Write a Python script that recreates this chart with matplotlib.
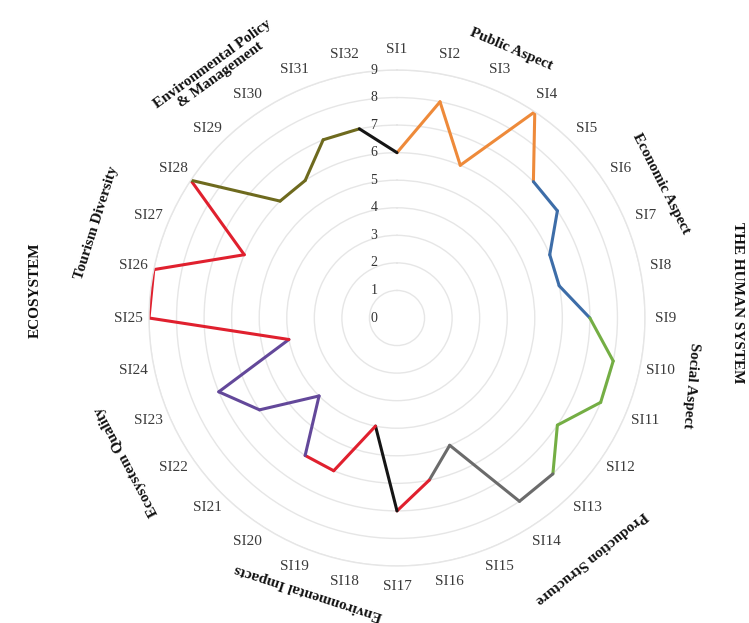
import numpy as np
import matplotlib
matplotlib.use("Agg")
import matplotlib.pyplot as plt
from matplotlib.transforms import offset_copy

# Sustainability indicators and their scores
indicators = [f"SI{i}" for i in range(1, 33)]
scores = [6, 8, 6, 9, 7, 7, 6, 6, 7, 8, 8, 7, 8, 8, 5, 6,
          7, 4, 6, 6, 4, 6, 7, 4, 9, 9, 6, 9, 6, 6, 7, 7]
radial_ticks = list(range(0, 10))

aspects = ["Public Aspect", "Economic Aspect", "Social Aspect",
           "Production Structure", "Environmental Impacts",
           "Ecosystem Quality", "Tourism Diversity",
           "Environmental Policy\n& Management"]
systems = ["THE HUMAN SYSTEM", "ECOSYSTEM"]

# Colour of each segment SI(k) -> SI(k+1)
ORANGE, BLUE, GREEN, GRAY = "#EE8A3A", "#3D6DA8", "#74AE44", "#6B6B6B"
RED, BLACK, PURPLE, OLIVE = "#E0202E", "#151515", "#63489A", "#6E6A1E"
seg_colors = ([ORANGE] * 4 + [BLUE] * 4 + [GREEN] * 4 + [GRAY] * 3 + [RED]
              + [BLACK] + [RED] * 2 + [PURPLE] * 4 + [RED] * 4 + [OLIVE] * 4
              + [BLACK])

# Aspect label placement: (angle in degrees clockwise from top, radius, rotation)
aspect_pos = [(23, 10.6, -23), (63, 10.75, -63), (103, 10.95, -95),
              (141, 11.2, -141), (198, 10.45, -198), (242, 11.1, -242),
              (287.5, 11.45, -287.5), (324, 11.15, -324)]

plt.rcParams["font.family"] = ["Liberation Serif", "DejaVu Serif"]

fig = plt.figure(figsize=(7.49, 6.23), dpi=100)
W, H = 749, 623
cx, cy, R = 397, 318, 248
ax = fig.add_axes([(cx - R) / W, (H - cy - R) / H, 2 * R / W, 2 * R / H],
                  projection="polar")
ax.set_theta_zero_location("N")
ax.set_theta_direction(-1)
ax.set_ylim(0, 9)

n = len(indicators)
theta = np.arange(n) * 2 * np.pi / n

# concentric grid circles
ax.set_yticks(radial_ticks)
ax.set_yticklabels([])
ax.set_xticks([])
ax.yaxis.grid(True, color="#e6e6e6", linewidth=1.0)
ax.xaxis.grid(False)
ax.spines["polar"].set_color("#e6e6e6")
ax.spines["polar"].set_linewidth(1.0)

# radial tick labels along the vertical axis
lab_tr = offset_copy(ax.transData, fig=fig, x=-23, y=0, units="dots")
for r in radial_ticks:
    ax.text(0, r, str(r), transform=lab_tr, ha="center", va="center",
            fontsize=10, color="#333333")

# profile line, segment by segment
for k in range(n):
    k2 = (k + 1) % n
    t2 = theta[k2] if k2 else 2 * np.pi
    ax.plot([theta[k], t2], [scores[k], scores[k2]], color=seg_colors[k],
            linewidth=2.2, solid_capstyle="round", solid_joinstyle="round")

# indicator labels
for t, name in zip(theta, indicators):
    ax.text(t, 9.75, name, ha="center", va="center", fontsize=11,
            color="#3a3a3a")

# aspect labels, tangential
for (ang, rr, rot), name in zip(aspect_pos, aspects):
    ax.text(np.deg2rad(ang), rr, name, rotation=rot, rotation_mode="anchor",
            ha="center", va="center", fontsize=11, fontweight="bold",
            color="#111111", linespacing=1.0)

# system labels
fig.text(738 / W, 1 - 303 / H, systems[0], rotation=-90, ha="center",
         va="center", fontsize=11, fontweight="bold", color="#111111")
fig.text(35 / W, 1 - 290 / H, systems[1], rotation=90, ha="center",
         va="center", fontsize=11, fontweight="bold", color="#111111")

fig.savefig("out.png", dpi=100, facecolor="white")
